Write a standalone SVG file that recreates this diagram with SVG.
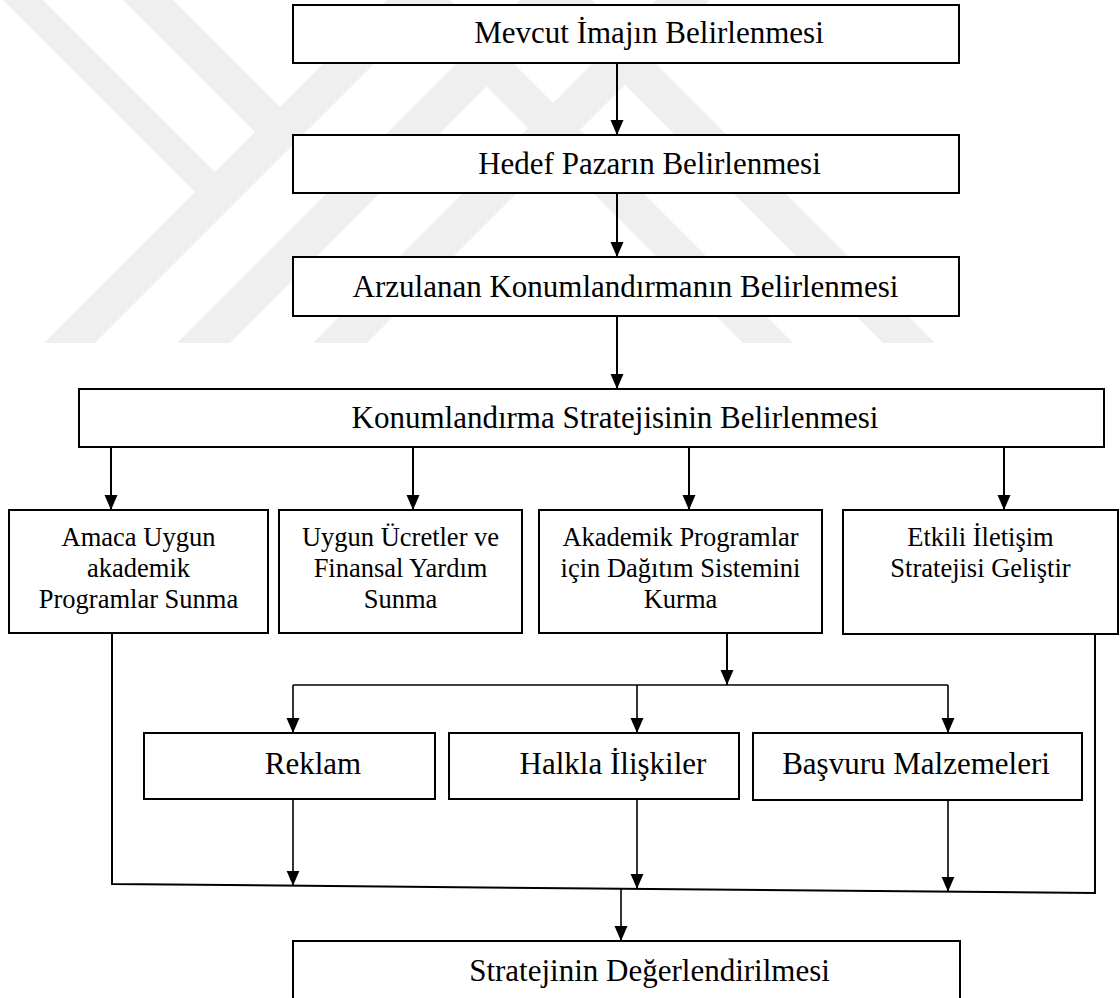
<svg xmlns="http://www.w3.org/2000/svg" width="1120" height="998" viewBox="0 0 1120 998">
  <style>
    .box { fill: #ffffff; stroke: #000000; stroke-width: 2; }
    .lbl { font-family: "Liberation Serif", "Times New Roman", serif; fill: #000000; text-anchor: middle; }
    .big { font-size: 31px; }
    .small { font-size: 26.5px; }
    .link { fill: none; stroke: #000000; stroke-width: 2; }
    .thin { fill: none; stroke: #000000; stroke-width: 1.6; }
    .wm { fill: #efefef; }
  </style>
  <defs>
    <marker id="arrow" viewBox="0 -7 15 14" refX="15" refY="0" markerWidth="15" markerHeight="14" markerUnits="userSpaceOnUse" orient="auto">
      <path d="M0,-6.5 L15,0 L0,6.5 Z" fill="#000000"/>
    </marker>
    <clipPath id="wmClip">
      <rect x="0" y="0" width="1120" height="343"/>
    </clipPath>
  </defs>

  <rect x="0" y="0" width="1120" height="998" fill="#ffffff"/>

  <!-- faint background emblem: diagonal bands -->
  <g id="emblem" clip-path="url(#wmClip)">
    <polygon class="wm" points="3,0 43,0 215,172 195,192"/>
    <polygon class="wm" points="123,0 173,0 280,107 255,132"/>
    <polygon class="wm" points="387,0 438,0 95,343 44,343"/>
    <polygon class="wm" points="520,0 573,0 230,343 177,343"/>
    <polygon class="wm" points="656,0 710,0 367,343 313,343"/>
    <polygon class="wm" points="400,0 450,0 793,343 743,343"/>
    <polygon class="wm" points="540,0 592,0 935,343 883,343"/>
  </g>

  <!-- connectors -->
  <g id="connectors">
    <line class="link" x1="617" y1="63" x2="617" y2="135" marker-end="url(#arrow)"/>
    <line class="link" x1="617" y1="193" x2="617" y2="257" marker-end="url(#arrow)"/>
    <line class="link" x1="617" y1="316" x2="617" y2="389" marker-end="url(#arrow)"/>

    <line class="link" x1="111" y1="447" x2="111" y2="510" marker-end="url(#arrow)"/>
    <line class="link" x1="413" y1="447" x2="413" y2="510" marker-end="url(#arrow)"/>
    <line class="link" x1="689" y1="447" x2="689" y2="510" marker-end="url(#arrow)"/>
    <line class="link" x1="1004" y1="447" x2="1004" y2="510" marker-end="url(#arrow)"/>

    <line class="link" x1="727" y1="633" x2="727" y2="685" marker-end="url(#arrow)"/>
    <polyline class="thin" points="293,685 948,685"/>
    <line class="thin" x1="293" y1="685" x2="293" y2="733" marker-end="url(#arrow)"/>
    <line class="thin" x1="637" y1="685" x2="637" y2="733" marker-end="url(#arrow)"/>
    <line class="thin" x1="948" y1="685" x2="948" y2="733" marker-end="url(#arrow)"/>

    <line class="thin" x1="293" y1="800" x2="293" y2="885.7" marker-end="url(#arrow)"/>
    <line class="thin" x1="637" y1="800" x2="637" y2="888.8" marker-end="url(#arrow)"/>
    <line class="thin" x1="948" y1="801" x2="948" y2="891.7" marker-end="url(#arrow)"/>

    <polyline class="link" points="112,633 112,884 1095,893 1095,633"/>
    <line class="thin" x1="621" y1="888.7" x2="621" y2="941" marker-end="url(#arrow)"/>
  </g>

  <!-- nodes -->
  <g id="mevcut-imaj">
    <rect class="box" x="293" y="5" width="666" height="58"/>
    <text class="lbl big" x="649" y="43">Mevcut İmajın Belirlenmesi</text>
  </g>
  <g id="hedef-pazar">
    <rect class="box" x="293" y="135" width="666" height="58"/>
    <text class="lbl big" x="649.5" y="174">Hedef Pazarın Belirlenmesi</text>
  </g>
  <g id="arzulanan-konum">
    <rect class="box" x="293" y="257" width="666" height="59"/>
    <text class="lbl big" x="625.5" y="297">Arzulanan Konumlandırmanın Belirlenmesi</text>
  </g>
  <g id="konum-strateji">
    <rect class="box" x="79" y="389" width="1025" height="58"/>
    <text class="lbl big" x="615" y="428">Konumlandırma Stratejisinin Belirlenmesi</text>
  </g>

  <g id="akademik-program">
    <rect class="box" x="9" y="510" width="259" height="123"/>
    <text class="lbl small" x="138.5" y="546">Amaca Uygun</text>
    <text class="lbl small" x="138.5" y="577">akademik</text>
    <text class="lbl small" x="138.5" y="608">Programlar Sunma</text>
  </g>
  <g id="ucret-yardim">
    <rect class="box" x="279" y="510" width="243" height="123"/>
    <text class="lbl small" x="400.5" y="546">Uygun Ücretler ve</text>
    <text class="lbl small" x="400.5" y="577">Finansal Yardım</text>
    <text class="lbl small" x="400.5" y="608">Sunma</text>
  </g>
  <g id="dagitim-sistemi">
    <rect class="box" x="539" y="510" width="283" height="123"/>
    <text class="lbl small" x="680.5" y="546">Akademik Programlar</text>
    <text class="lbl small" x="680.5" y="577">için Dağıtım Sistemini</text>
    <text class="lbl small" x="680.5" y="608">Kurma</text>
  </g>
  <g id="iletisim-strateji">
    <rect class="box" x="843" y="510" width="275" height="124"/>
    <text class="lbl small" x="980.5" y="546">Etkili İletişim</text>
    <text class="lbl small" x="980.5" y="577">Stratejisi Geliştir</text>
  </g>

  <g id="reklam">
    <rect class="box" x="144" y="733" width="291" height="66"/>
    <text class="lbl big" x="313" y="774">Reklam</text>
  </g>
  <g id="halkla-iliskiler">
    <rect class="box" x="449" y="733" width="290" height="66"/>
    <text class="lbl big" x="613" y="774">Halkla İlişkiler</text>
  </g>
  <g id="basvuru-malzeme">
    <rect class="box" x="753" y="733" width="329" height="67"/>
    <text class="lbl big" x="916" y="774">Başvuru Malzemeleri</text>
  </g>

  <g id="degerlendirme">
    <rect class="box" x="293" y="941" width="667" height="70"/>
    <text class="lbl big" x="649.5" y="981">Stratejinin Değerlendirilmesi</text>
  </g>
</svg>
